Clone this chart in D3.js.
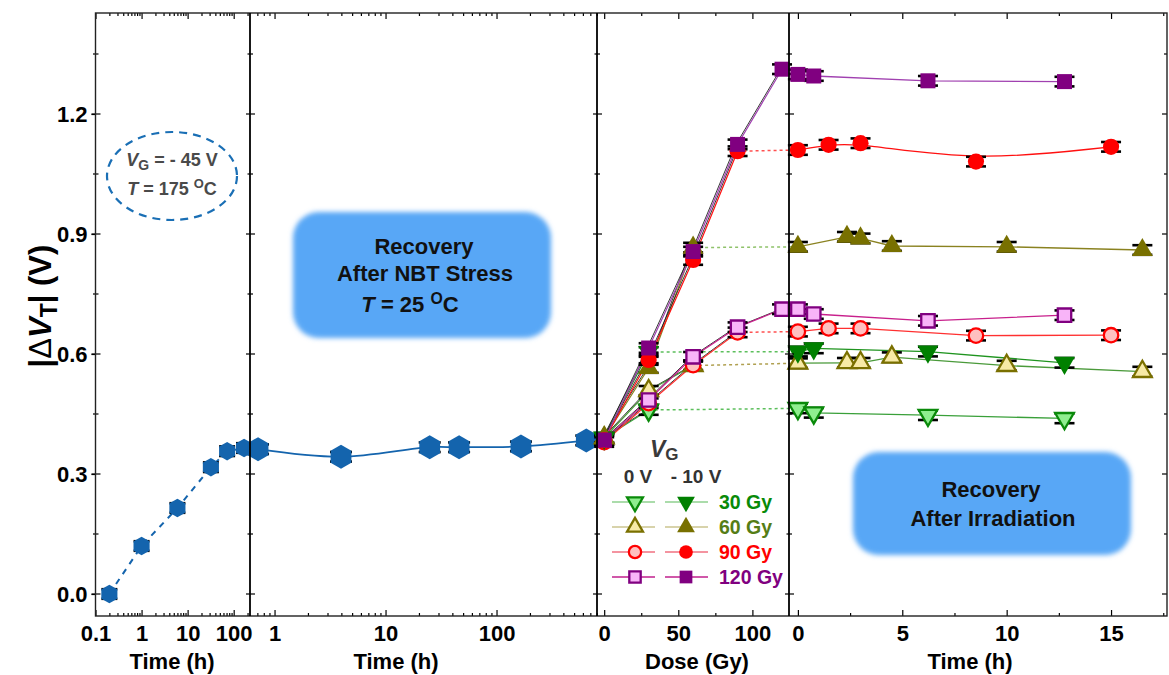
<!DOCTYPE html>
<html><head><meta charset="utf-8">
<script src="https://cdn.jsdelivr.net/npm/d3@7"></script>
<style>
body{margin:0;background:#fff;}
svg{display:block;font-family:"Liberation Sans",Arial,sans-serif;font-weight:bold;}
</style></head><body>
<svg id="chart" width="1169" height="675"></svg>
<script>
// ---- data -------------------------------------------------------------
// NBT stress at 175 C (hours, |dVT| in V)
const stressTime  = [0.2, 1, 6, 32, 72, 168];
const stressShift = [0.0, 0.12, 0.215, 0.317, 0.357, 0.365];
// recovery after NBT stress at 25 C
const nbtRecTime  = [0.71, 3.97, 25, 46, 166, 644];
const nbtRecShift = [0.362, 0.343, 0.367, 0.367, 0.369, 0.384];
// irradiation: dose steps and |dVT| per total-dose series (30, 60, 90, 120 Gy)
const doses      = [0, 30, 60, 90, 120];
const doseLabels = ["30 Gy", "60 Gy", "90 Gy", "120 Gy"];
const irr0V   = [[0.39, 0.46], [0.39, 0.508, 0.571], [0.38, 0.477, 0.572, 0.654], [0.385, 0.485, 0.593, 0.667, 0.712]];
const irrM10V = [[0.39, 0.605], [0.39, 0.565, 0.866], [0.385, 0.585, 0.835, 1.107], [0.385, 0.615, 0.856, 1.124, 1.312]];
// recovery after irradiation (hours)
const recTimes = [[0, 0.76, 6.23, 12.77], [0, 2.35, 3.0, 4.5, 10.0, 16.5], [0, 1.47, 3.0, 8.53, 15.0], [0, 0.76, 6.23, 12.77]];
const rec0V    = [[0.464, 0.453, 0.447, 0.439], [0.577, 0.578, 0.578, 0.592, 0.571, 0.556], [0.656, 0.664, 0.664, 0.646, 0.647], [0.712, 0.70, 0.683, 0.697]];
const recM10V  = [[0.606, 0.614, 0.606, 0.578], [0.868, 0.893, 0.889, 0.87, 0.868, 0.86], [1.11, 1.123, 1.127, 1.081, 1.118], [1.299, 1.295, 1.283, 1.281]];
const errHalf = 0.012;
// tick labels
const yTicks    = [0, 0.3, 0.6, 0.9, 1.2];
const yMinor    = [0.15, 0.45, 0.75, 1.05, 1.35];
const p1Ticks   = [0.1, 1, 10, 100];
const p2Ticks   = [1, 10, 100];
const doseTicks = [0, 50, 100];
const doseMinor = [25, 75];
const recTicks  = [0, 5, 10, 15];
const recMinor  = [2.5, 7.5, 12.5, 17.5];

// ---- styles -------------------------------------------------------------
const hexColor = "#1464ad";
const styles = [
  {shape: "triDown", hollowFill: "#8fee8f", edge: "#0a8a0a", solid: "#008000", line0: "#3aa03a", line1: "#1f941f", dot0: "#5cbf5c", dot1: "#5cbf5c", legLine: "#8fd08f", text: "#088a08"},
  {shape: "triUp",   hollowFill: "#f7eaa6", edge: "#7a7000", solid: "#787000", line0: "#4a9a3a", line1: "#8a8220", dot0: "#b0a050", dot1: "#8fc26a", legLine: "#cbc48f", text: "#557d16"},
  {shape: "circle",  hollowFill: "#ffc0c0", edge: "#ff0000", solid: "#ff0000", line0: "#ff3030", line1: "#ff1010", dot0: "#ff5050", dot1: "#ff5050", legLine: "#f07080", text: "#ff0000"},
  {shape: "square",  hollowFill: "#f8b4f8", edge: "#800080", solid: "#800080", line0: "#c8208c", line1: "#a040b0", dot0: "#c8208c", dot1: "#a040b0", legLine: "#c0208c", text: "#800080"}
];

// ---- scales -------------------------------------------------------------
const yBottom = 616, yTop = 13;
const yS = d3.scaleLinear().domain([-0.055, 1.4525]).range([yBottom, yTop]);
const x1 = d3.scaleLog().domain([0.1, 226]).range([95.5, 250]);
const x2 = d3.scaleLog().domain([0.601, 804]).range([250, 597]);
const x3 = d3.scaleLinear().domain([-4.85, 124.7]).range([597, 789]);
const x4 = d3.scaleLinear().domain([-0.426, 17.68]).range([789, 1167]);

const svg = d3.select("#chart");
const defs = svg.append("defs");
defs.append("filter").attr("id", "soft").attr("x", "-10%").attr("y", "-10%").attr("width", "120%").attr("height", "120%")
  .append("feGaussianBlur").attr("stdDeviation", 2.6);

// symbol helpers
function hexPath(R) {
  const pts = d3.range(6).map(i => {
    const a = Math.PI / 3 * i - Math.PI / 2;
    return [R * Math.cos(a), R * Math.sin(a)];
  });
  return "M" + pts.map(p => p.join(",")).join("L") + "Z";
}
function markerPath(shape, big, hollow) {
  const k = (big ? 1 : 0.72) * (hollow ? 0.8 : 1);
  if (shape === "circle") return d3.symbol(d3.symbolCircle, 205 * k)();
  if (shape === "square") return d3.symbol(d3.symbolSquare, 225 * k)();
  return d3.symbol(d3.symbolTriangle, 190 * k)();
}
function drawMarker(g, shape, x, y, fill, stroke, big) {
  const hollow = stroke !== "none";
  g.append("path").attr("d", markerPath(shape, big, hollow))
    .attr("transform", `translate(${x},${y})` + (shape === "triDown" ? " rotate(180)" : ""))
    .attr("fill", fill).attr("stroke", stroke).attr("stroke-width", hollow ? 2.3 : 0);
}
function errorBar(g, x, v, capW) {
  const yt = yS(v + errHalf), yb = yS(v - errHalf);
  g.append("line").attr("x1", x).attr("x2", x).attr("y1", yt).attr("y2", yb).attr("stroke", "#000").attr("stroke-width", 1.5);
  [yt, yb].forEach(yy => g.append("line").attr("x1", x - capW / 2).attr("x2", x + capW / 2)
    .attr("y1", yy).attr("y2", yy).attr("stroke", "#000").attr("stroke-width", 2.6));
}

// ---- annotation boxes (behind data) ----------------------------------------
const annot = svg.append("g");
annot.append("rect").attr("x", 293).attr("y", 212).attr("width", 258).attr("height", 126).attr("rx", 26)
  .attr("fill", "#59a7f6").attr("filter", "url(#soft)");
annot.append("rect").attr("x", 853).attr("y", 452).attr("width", 278).attr("height", 103).attr("rx", 26)
  .attr("fill", "#59a7f6").attr("filter", "url(#soft)");

function tempText(g, x, y, value, size, color) {
  const t = g.append("text").attr("x", x).attr("y", y).attr("text-anchor", "middle")
    .attr("font-size", size).attr("fill", color);
  t.append("tspan").attr("font-style", "italic").text("T");
  t.append("tspan").text(` = ${value} `);
  t.append("tspan").attr("font-size", size * 0.72).attr("dy", -size * 0.38).text("O");
  t.append("tspan").attr("dy", size * 0.38).text("C");
}
const boxFont = 22;
annot.append("text").attr("x", 424).attr("y", 254).attr("text-anchor", "middle").attr("font-size", boxFont).attr("fill", "#111").text("Recovery");
annot.append("text").attr("x", 425).attr("y", 281).attr("text-anchor", "middle").attr("font-size", boxFont).attr("fill", "#111").text("After NBT Stress");
tempText(annot, 410, 312, 25, boxFont, "#111");
annot.append("text").attr("x", 991).attr("y", 497).attr("text-anchor", "middle").attr("font-size", boxFont).attr("fill", "#111").text("Recovery");
annot.append("text").attr("x", 993).attr("y", 526).attr("text-anchor", "middle").attr("font-size", boxFont).attr("fill", "#111").text("After Irradiation");

// stress condition ellipse
annot.append("ellipse").attr("cx", 172).attr("cy", 176).attr("rx", 65).attr("ry", 44)
  .attr("fill", "none").attr("stroke", "#1a6fb5").attr("stroke-width", 2.2).attr("stroke-dasharray", "8,6");
const vg = annot.append("text").attr("x", 172).attr("y", 166).attr("text-anchor", "middle").attr("font-size", 18).attr("fill", "#4a4a4a");
vg.append("tspan").attr("font-style", "italic").text("V");
vg.append("tspan").attr("font-size", 14).attr("dy", 4).text("G");
vg.append("tspan").attr("dy", -4).text(" = - 45 V");
tempText(annot, 172, 195, 175, 18, "#4a4a4a");

// ---- panel 1 & 2: NBT stress and its recovery -------------------------------
const nbt = svg.append("g");
const p1 = stressTime.map((t, i) => [x1(t), yS(stressShift[i])]);
const p2 = nbtRecTime.map((t, i) => [x2(t), yS(nbtRecShift[i])]);
nbt.append("path").attr("d", d3.line()(p1)).attr("fill", "none").attr("stroke", hexColor)
  .attr("stroke-width", 2).attr("stroke-dasharray", "6,6");
nbt.append("path").attr("d", d3.line().curve(d3.curveCatmullRom)(p2)).attr("fill", "none")
  .attr("stroke", hexColor).attr("stroke-width", 1.8);
stressTime.forEach((t, i) => errorBar(nbt, x1(t), stressShift[i], 16));
nbtRecTime.forEach((t, i) => errorBar(nbt, x2(t), nbtRecShift[i], 22));
p1.forEach(p => nbt.append("path").attr("d", hexPath(9.3)).attr("transform", `translate(${p[0]},${p[1]})`).attr("fill", hexColor));
p2.forEach(p => nbt.append("path").attr("d", hexPath(12)).attr("transform", `translate(${p[0]},${p[1]})`).attr("fill", hexColor));

// ---- panel 3 & 4: irradiation and recovery ----------------------------------
const irr = svg.append("g");
const lin = d3.line();
styles.forEach((s, k) => {
  const n0 = irr0V[k], n1 = irrM10V[k];
  // dotted links from final dose to the start of recovery
  if (k < 3) {
    [[n0, rec0V[k], s.dot0], [n1, recM10V[k], s.dot1]].forEach(([a, b, c]) => {
      irr.append("line").attr("x1", x3(doses[a.length - 1])).attr("x2", x4(recTimes[k][0]))
        .attr("y1", yS(a[a.length - 1])).attr("y2", yS(b[0]))
        .attr("stroke", c).attr("stroke-width", 1.5).attr("stroke-dasharray", "3,3");
    });
  }
  // dose-step lines with a thin dark companion trace
  [n0, n1].forEach((arr, j) => {
    const pts = arr.map((v, i) => [x3(doses[i]), yS(v)]);
    irr.append("path").attr("d", lin(pts)).attr("fill", "none").attr("stroke", "#222")
      .attr("stroke-width", 0.9).attr("transform", "translate(-1.5,0)");
    irr.append("path").attr("d", lin(pts)).attr("fill", "none").attr("stroke", j ? s.line1 : s.line0).attr("stroke-width", 1.2);
  });
  const r0 = recTimes[k].map((t, i) => [x4(t), yS(rec0V[k][i])]);
  const r1 = recTimes[k].map((t, i) => [x4(t), yS(recM10V[k][i])]);
  irr.append("path").attr("d", lin(r0)).attr("fill", "none").attr("stroke", s.line0).attr("stroke-width", 1.3);
  irr.append("path").attr("d", (k === 2 ? d3.line().curve(d3.curveBasis) : lin)(r1)).attr("fill", "none").attr("stroke", s.line1).attr("stroke-width", 1.3);
});
styles.forEach((s, k) => {
  [irr0V[k], irrM10V[k]].forEach(arr => arr.forEach((v, i) => errorBar(irr, x3(doses[i]), v, 20)));
  [rec0V[k], recM10V[k]].forEach(arr => arr.forEach((v, i) => errorBar(irr, x4(recTimes[k][i]), v, 20)));
});
styles.forEach((s, k) => {
  irr0V[k].forEach((v, i) => drawMarker(irr, s.shape, x3(doses[i]), yS(v), s.hollowFill, s.edge, true));
  rec0V[k].forEach((v, i) => drawMarker(irr, s.shape, x4(recTimes[k][i]), yS(v), s.hollowFill, s.edge, true));
});
styles.forEach((s, k) => {
  irrM10V[k].forEach((v, i) => drawMarker(irr, s.shape, x3(doses[i]), yS(v), s.solid, "none", true));
  recM10V[k].forEach((v, i) => drawMarker(irr, s.shape, x4(recTimes[k][i]), yS(v), s.solid, "none", true));
});

// ---- legend ---------------------------------------------------------------
const leg = svg.append("g");
const lv = leg.append("text").attr("x", 650).attr("y", 457).attr("font-size", 23).attr("fill", "#3a3a3a");
lv.append("tspan").attr("font-style", "italic").text("V");
lv.append("tspan").attr("font-size", 17).attr("dy", 3).text("G");
leg.append("text").attr("x", 638).attr("y", 483).attr("text-anchor", "middle").attr("font-size", 19).attr("fill", "#333").text("0 V");
leg.append("text").attr("x", 696).attr("y", 483).attr("text-anchor", "middle").attr("font-size", 19).attr("fill", "#333").text("- 10 V");
styles.forEach((s, k) => {
  const yy = 502 + k * 25;
  leg.append("line").attr("x1", 612).attr("x2", 655).attr("y1", yy).attr("y2", yy).attr("stroke", s.legLine).attr("stroke-width", 1.6);
  leg.append("line").attr("x1", 665).attr("x2", 708).attr("y1", yy).attr("y2", yy).attr("stroke", s.legLine).attr("stroke-width", 1.6);
  drawMarker(leg, s.shape, 635, yy, s.hollowFill, s.edge, false);
  drawMarker(leg, s.shape, 686, yy, s.solid, "none", false);
  leg.append("text").attr("x", 719).attr("y", yy + 7).attr("font-size", 19.5).attr("fill", s.text).text(doseLabels[k]);
});

// ---- axes -------------------------------------------------------------------
const axes = svg.append("g");
function logMinors(scale) {
  const [a, b] = scale.domain(), out = [];
  for (let e = Math.floor(Math.log10(a)); e <= Math.ceil(Math.log10(b)); e++)
    for (let m = 2; m <= 9; m++) { const v = m * Math.pow(10, e); if (v >= a && v <= b) out.push(v); }
  return out;
}
function styleAxis(g) {
  g.select(".domain").remove();
  g.selectAll(".tick line").attr("stroke", "#000").attr("stroke-width", 1.2);
  g.selectAll(".tick text").attr("fill", "#000").attr("font-size", 22).attr("font-family", "Liberation Sans, Arial, sans-serif").attr("font-weight", "bold");
}
function xAxes(scale, majors, minors) {
  const b = axes.append("g").attr("transform", `translate(0,${yBottom})`);
  b.call(d3.axisBottom(scale).tickValues(majors).tickSize(-6).tickPadding(9).tickFormat(d => String(d))).call(styleAxis);
  const bm = axes.append("g").attr("transform", `translate(0,${yBottom})`);
  bm.call(d3.axisBottom(scale).tickValues(minors).tickSize(-3).tickFormat("")).call(styleAxis);
  const t = axes.append("g").attr("transform", `translate(0,${yTop})`);
  t.call(d3.axisTop(scale).tickValues(majors).tickSize(-6).tickFormat("")).call(styleAxis);
  const tm = axes.append("g").attr("transform", `translate(0,${yTop})`);
  tm.call(d3.axisTop(scale).tickValues(minors).tickSize(-3).tickFormat("")).call(styleAxis);
}
xAxes(x1, p1Ticks, logMinors(x1));
xAxes(x2, p2Ticks, logMinors(x2));
xAxes(x3, doseTicks, doseMinor);
xAxes(x4, recTicks, recMinor);

// y axis labels and ticks on every panel border
const yl = axes.append("g").attr("transform", `translate(${x1.range()[0]},0)`);
yl.call(d3.axisLeft(yS).tickValues(yTicks).tickSize(4).tickPadding(4).tickFormat(d3.format(".1f"))).call(styleAxis);
const borders = [x1.range()[0], x2.range()[0], x3.range()[0], x4.range()[0]];
borders.forEach(bx => {
  yTicks.forEach(v => axes.append("line").attr("x1", bx - 4).attr("x2", bx + 5).attr("y1", yS(v)).attr("y2", yS(v)).attr("stroke", "#000").attr("stroke-width", 1.2));
  yMinor.forEach(v => axes.append("line").attr("x1", bx - 2.5).attr("x2", bx + 3).attr("y1", yS(v)).attr("y2", yS(v)).attr("stroke", "#000").attr("stroke-width", 1.2));
});
const rx = x4.range()[1];
yTicks.forEach(v => axes.append("line").attr("x1", rx - 5).attr("x2", rx).attr("y1", yS(v)).attr("y2", yS(v)).attr("stroke", "#000").attr("stroke-width", 1.2));
yMinor.forEach(v => axes.append("line").attr("x1", rx - 3).attr("x2", rx).attr("y1", yS(v)).attr("y2", yS(v)).attr("stroke", "#000").attr("stroke-width", 1.2));

// frame and panel dividers
axes.append("rect").attr("x", x1.range()[0]).attr("y", yTop).attr("width", rx - x1.range()[0]).attr("height", yBottom - yTop)
  .attr("fill", "none").attr("stroke", "#222").attr("stroke-width", 1.4);
borders.slice(1).forEach(bx => axes.append("line").attr("x1", bx).attr("x2", bx).attr("y1", yTop).attr("y2", yBottom)
  .attr("stroke", "#000").attr("stroke-width", 1.8));

// axis titles
const titles = [["Time (h)", 172], ["Time (h)", 396], ["Dose (Gy)", 697], ["Time (h)", 970]];
titles.forEach(([txt, x]) => axes.append("text").attr("x", x).attr("y", 669).attr("text-anchor", "middle")
  .attr("font-size", 22).attr("fill", "#000").text(txt));
const yt = axes.append("text").attr("transform", "translate(51,306) rotate(-90)").attr("text-anchor", "middle")
  .attr("font-size", 31).attr("fill", "#000");
yt.append("tspan").text("|");
yt.append("tspan").attr("font-weight", "normal").text("\u0394");
yt.append("tspan").attr("font-style", "italic").text("V");
yt.append("tspan").attr("font-size", 23).attr("dy", 6).text("T");
yt.append("tspan").attr("dy", -6).text("| (V)");
</script>
</body></html>
